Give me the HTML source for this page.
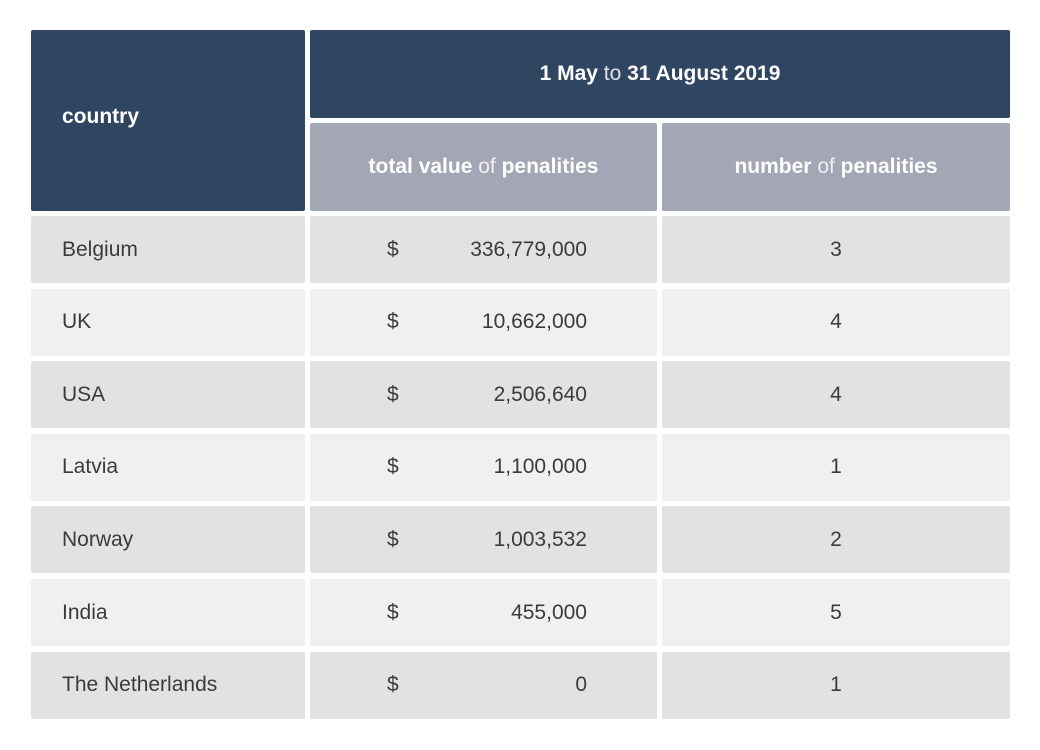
<!DOCTYPE html>
<html><head><meta charset="utf-8"><style>
body{margin:0;width:1040px;height:750px;background:#fff;font-family:"Liberation Sans","DejaVu Sans",sans-serif;position:relative;overflow:hidden}
.c{position:absolute;border-radius:2px;box-sizing:border-box;display:flex;align-items:center;font-size:21px;color:#3b3b3b}
.h{background:#2f4561;color:#fff;font-weight:bold}
.s{background:#a3a6b4;color:#fff;font-weight:bold;justify-content:center}
.l{font-weight:normal;opacity:.85}
.e{background:#e2e2e2}.o{background:#f0f0f0}
</style></head><body>
<div class="c h" style="left:31px;top:30px;width:274px;height:181px;padding-left:31px;padding-bottom:8px">country</div>
<div class="c h" style="left:310px;top:30px;width:700px;height:88px;justify-content:center">1 May&nbsp;<span class="l">to</span>&nbsp;31 August 2019</div>
<div class="c s" style="left:310px;top:123px;width:347px;height:88px">total value&nbsp;<span class="l">of</span>&nbsp;penalities</div>
<div class="c s" style="left:662px;top:123px;width:348px;height:88px">number&nbsp;<span class="l">of</span>&nbsp;penalities</div>
<div id="rows"></div>
<script>
const countries=["Belgium","UK","USA","Latvia","Norway","India","The Netherlands"];
const values=["336,779,000","10,662,000","2,506,640","1,100,000","1,003,532","455,000","0"];
const counts=["3","4","4","1","2","5","1"];
const root=document.getElementById('rows');
countries.forEach((c,i)=>{
  const top=216+i*72.6, cls=i%2?'o':'e';
  const a=document.createElement('div');a.className='c '+cls;
  
  
  a.style.cssText=`left:31px;top:${top}px;width:274px;height:67px;padding-left:31px`;a.textContent=c;root.appendChild(a);
  const b=document.createElement('div');b.className='c '+cls;
  
  
  b.style.cssText=`left:310px;top:${top}px;width:347px;height:67px`;
  b.innerHTML=`<span style="position:absolute;left:77px">$</span><span style="position:absolute;right:70px">${values[i]}</span>`;root.appendChild(b);
  const d=document.createElement('div');d.className='c '+cls;
  
  
  d.style.cssText=`left:662px;top:${top}px;width:348px;height:67px;justify-content:center`;d.textContent=counts[i];root.appendChild(d);
});
</script>
</body></html>
